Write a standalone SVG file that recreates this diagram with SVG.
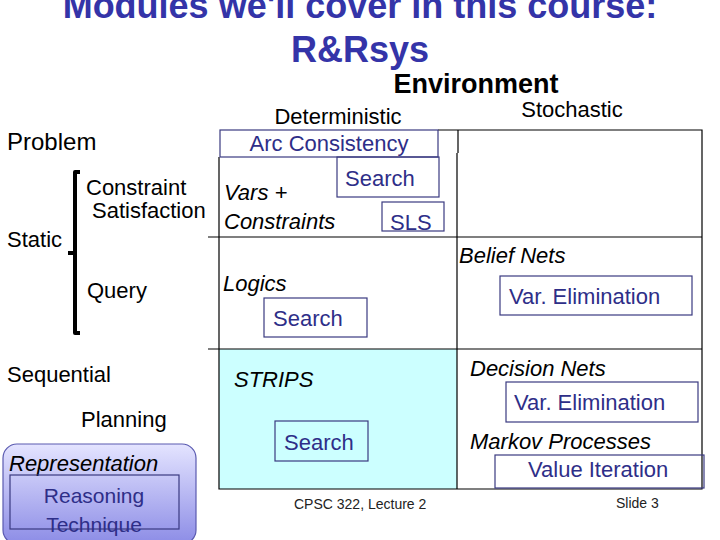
<svg xmlns="http://www.w3.org/2000/svg" width="720" height="540" viewBox="0 0 720 540">
<defs>
<linearGradient id="repg" x1="0" y1="0" x2="0" y2="1">
<stop offset="0" stop-color="#e4e4ff"/>
<stop offset="1" stop-color="#8c8ce6"/>
</linearGradient>
<style>
text{font-family:"Liberation Sans",Arial,sans-serif;fill:#000}
.title{font-size:36px;font-weight:bold;fill:#3434a8}
.lbl{font-size:22px}
.it{font-size:22px;font-style:italic}
.bt{font-size:22px;fill:#2e2e88}
.box{fill:none;stroke:#3a3a80;stroke-width:1.2}
.grid{stroke:#000;stroke-width:1.2;fill:none}
.foot{font-size:14px;fill:#222}
</style>
</defs>
<rect width="720" height="540" fill="#fff"/>
<g id="title">
<text class="title" x="360" y="18" text-anchor="middle">Modules we'll cover in this course:</text>
<text class="title" x="360" y="62" text-anchor="middle">R&amp;Rsys</text>
</g>
<g id="headers">
<text x="476" y="93" text-anchor="middle" style="font-size:27px;font-weight:bold">Environment</text>
<text class="lbl" x="338" y="124" text-anchor="middle">Deterministic</text>
<text class="lbl" x="572" y="117" text-anchor="middle">Stochastic</text>
<text class="lbl" x="7" y="150" style="font-size:24px">Problem</text>
<text class="lbl" x="86" y="195">Constraint</text>
<text class="lbl" x="92" y="218">Satisfaction</text>
<text class="lbl" x="7" y="247">Static</text>
<text class="lbl" x="87" y="298">Query</text>
<text class="lbl" x="7" y="382">Sequential</text>
<text class="lbl" x="81" y="427">Planning</text>
<path d="M80,172 H75 V253 H68 M75,253 V333 H80" fill="none" stroke="#000" stroke-width="4" stroke-linejoin="round"/>
</g>
<g id="cells">
<rect x="219" y="349" width="238" height="140" fill="#ccffff"/>
</g>
<g id="connectors">
<path class="grid" d="M438,130 H702 V489 H219 V157"/>
<path class="grid" d="M458,130 V153 M457,153 V489"/>
<path class="grid" d="M208,237 H702 M208,349 H702"/>
</g>
<g id="csp">
<rect class="box" x="220" y="130" width="218" height="27"/>
<text class="bt" x="329" y="151" text-anchor="middle">Arc Consistency</text>
<rect class="box" x="337" y="157" width="102" height="40" fill="#fff"/>
<text class="bt" x="345" y="186">Search</text>
<text class="it" x="224" y="200">Vars +</text>
<text class="it" x="224" y="229">Constraints</text>
<rect class="box" x="382" y="202" width="62" height="29"/>
<text class="bt" x="390" y="230">SLS</text>
</g>
<g id="logics">
<text class="it" x="223" y="291">Logics</text>
<rect class="box" x="264" y="298" width="103" height="39"/>
<text class="bt" x="273" y="326">Search</text>
</g>
<g id="belief">
<text class="it" x="459" y="263">Belief Nets</text>
<rect class="box" x="500" y="276" width="192" height="39"/>
<text class="bt" x="509" y="304">Var. Elimination</text>
</g>
<g id="strips">
<text class="it" x="234" y="387">STRIPS</text>
<rect class="box" x="275" y="421" width="93" height="40"/>
<text class="bt" x="284" y="450">Search</text>
</g>
<g id="decision">
<text class="it" x="470" y="376">Decision Nets</text>
<rect class="box" x="506" y="382" width="192" height="40"/>
<text class="bt" x="514" y="410">Var. Elimination</text>
<text class="it" x="470" y="449">Markov Processes</text>
<rect class="box" x="495" y="455" width="209" height="33" fill="#fff"/>
<text class="bt" x="528" y="477">Value Iteration</text>
</g>
<g id="legend">
<rect x="3" y="444" width="193" height="100" rx="14" fill="url(#repg)" stroke="#5a5ab0" stroke-width="1.2"/>
<text class="it" x="9" y="471">Representation</text>
<rect class="box" x="10" y="475" width="169" height="54"/>
<text class="bt" x="94" y="503" text-anchor="middle" style="font-size:21px">Reasoning</text>
<text class="bt" x="94" y="532" text-anchor="middle" style="font-size:21px">Technique</text>
</g>
<g id="footer">
<text class="foot" x="294" y="509">CPSC 322, Lecture 2</text>
<text class="foot" x="616" y="508">Slide 3</text>
</g>
</svg>
